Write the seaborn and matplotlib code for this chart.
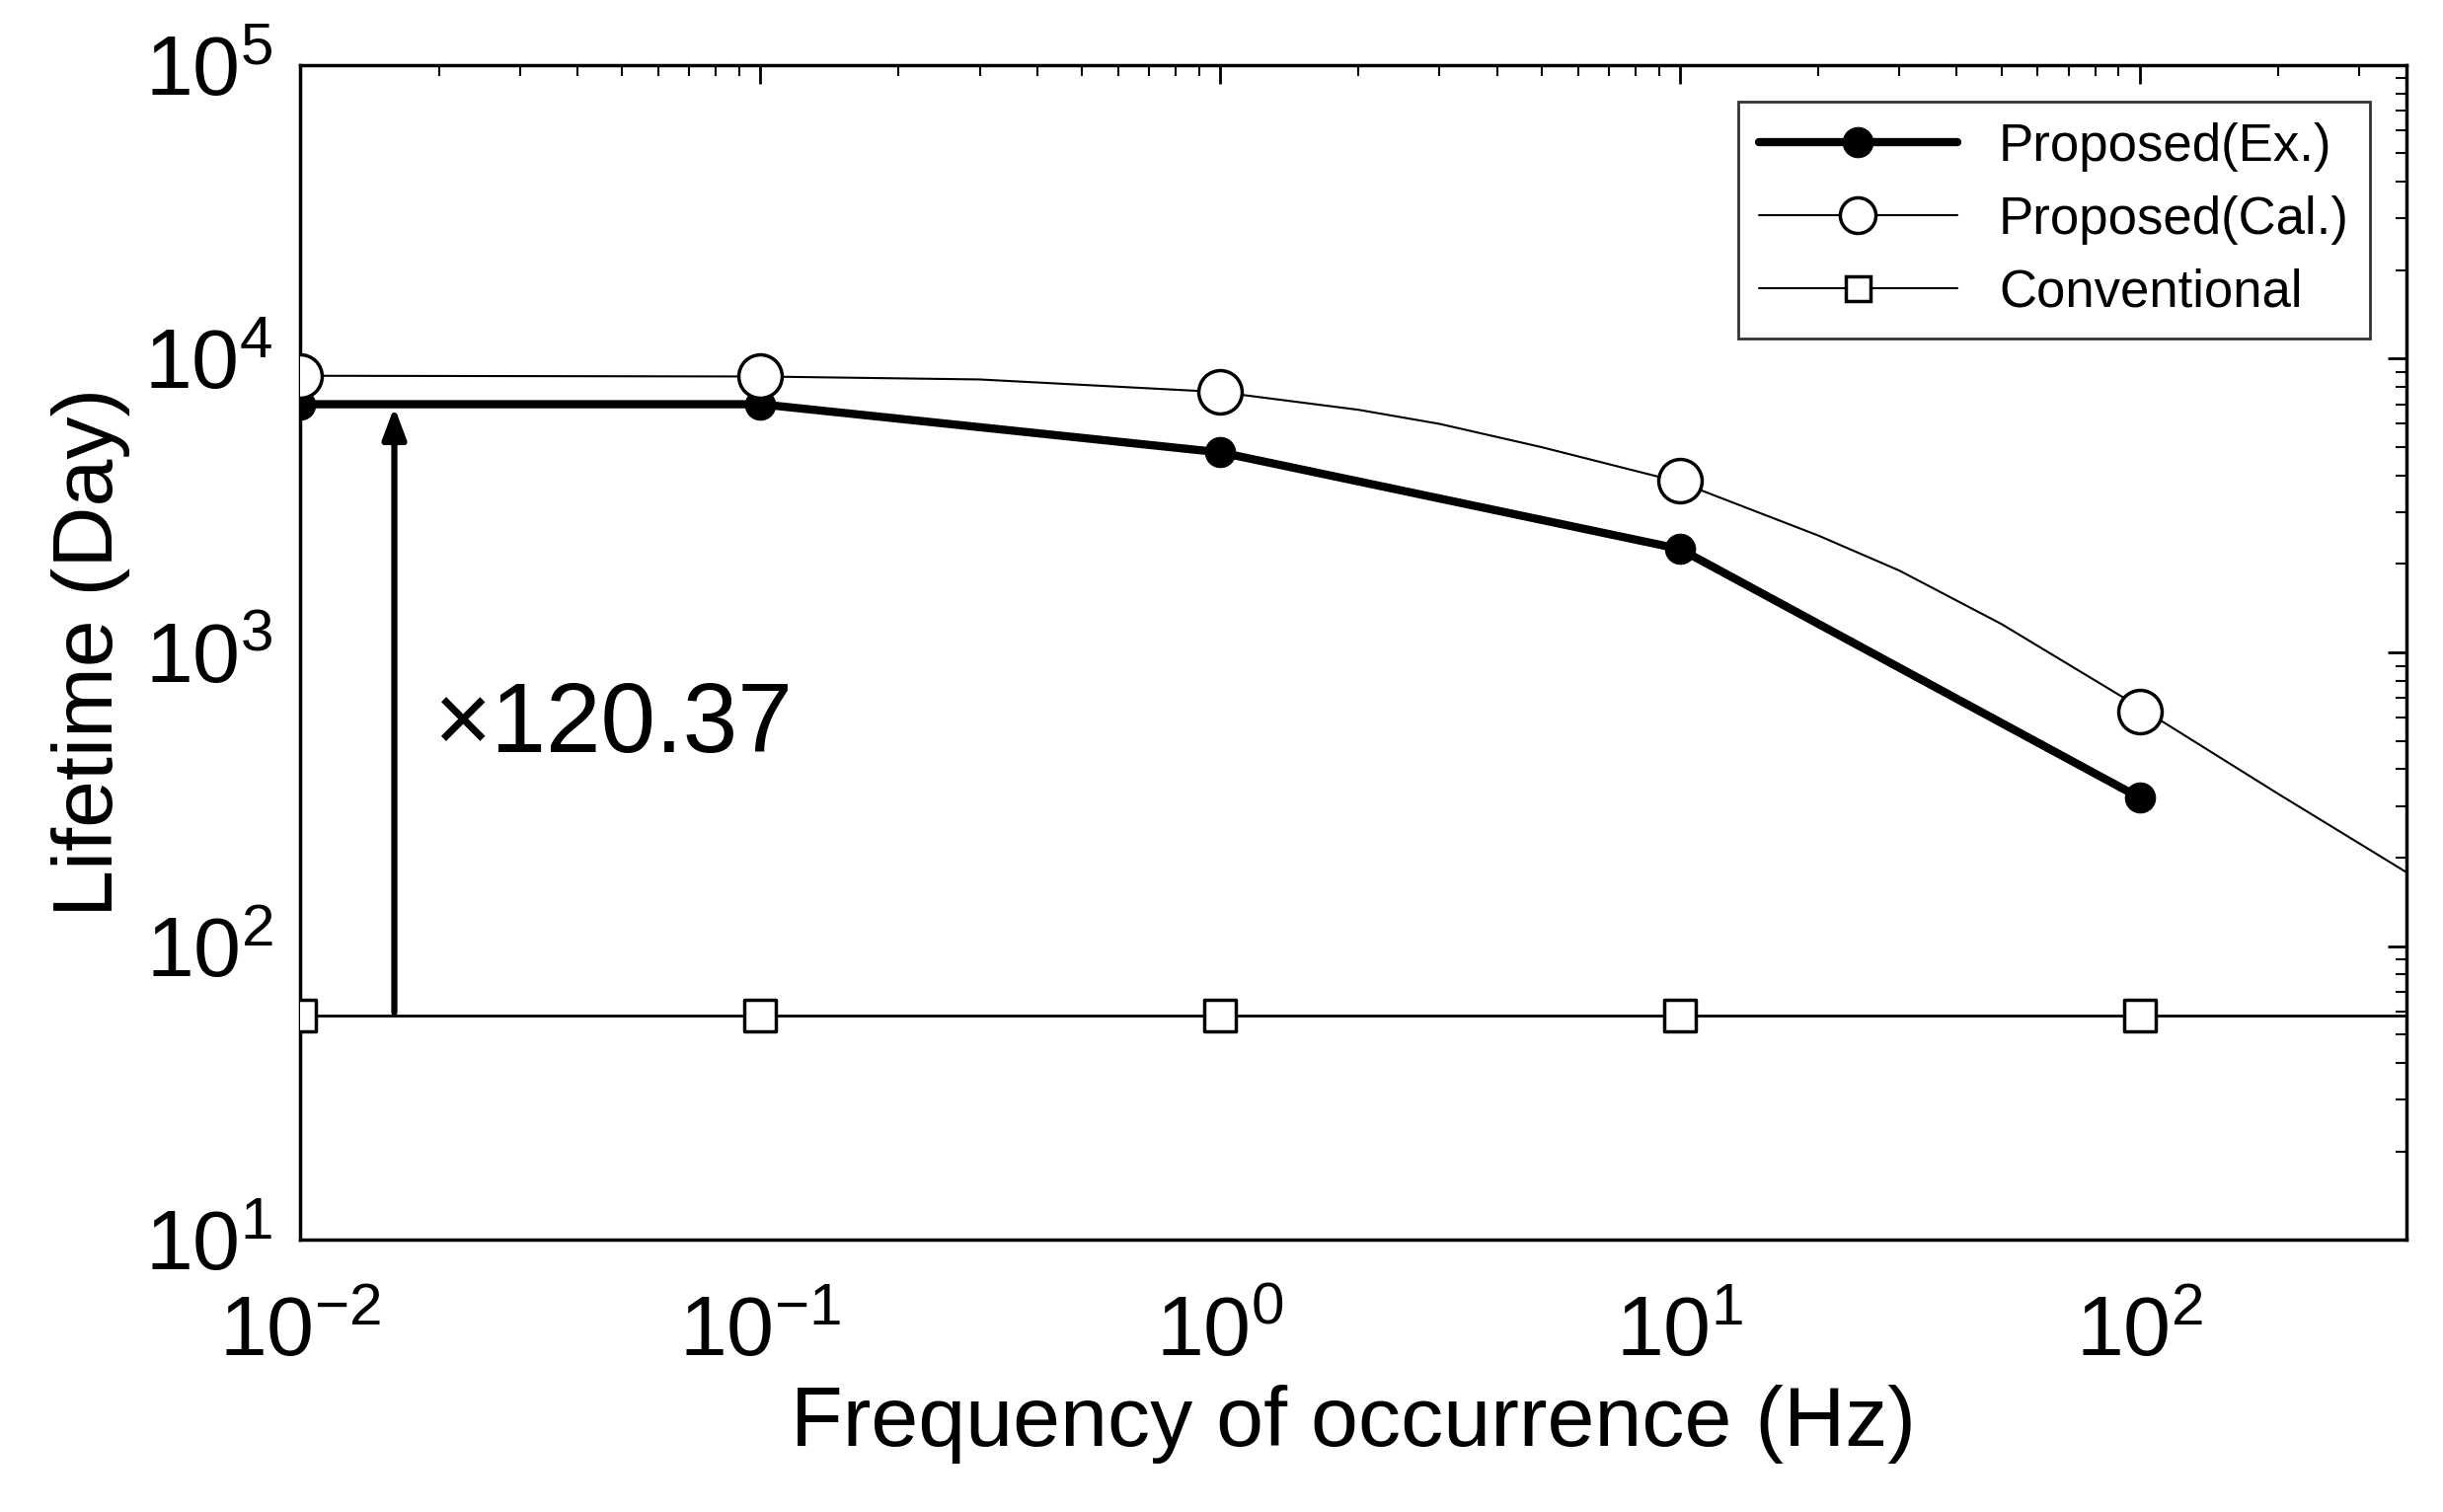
import matplotlib
matplotlib.use("Agg")
import matplotlib.pyplot as plt
import seaborn as sns

sns.set_theme(style="white")
plt.rcParams['font.family'] = ['Liberation Sans', 'DejaVu Sans']
plt.rcParams['text.color'] = 'black'
plt.rcParams['axes.labelcolor'] = 'black'
plt.rcParams['xtick.color'] = 'black'
plt.rcParams['ytick.color'] = 'black'

freq = [0.01, 0.1, 1, 10, 100]
ex_life = [7000, 7000, 4800, 2250, 320]
cal_life = [8750, 8750, 7700, 3850, 630]
conv_life = [58.16, 58.16, 58.16, 58.16, 58.16]
curve_x = [0.01, 0.1, 0.3, 1, 2, 3, 5, 10, 20, 30, 50, 100, 200, 400]
curve_y = [8750, 8700, 8500, 7700, 6700, 6000, 5000, 3800, 2500, 1900, 1250, 650, 330, 170]

fig = plt.figure(figsize=(24.75, 15.32), dpi=100)
ax = fig.add_axes([0.123, 0.18, 0.862, 0.777])

sns.lineplot(x=curve_x, y=curve_y, ax=ax, color='black', lw=1.5)
ax.axhline(conv_life[0], color='black', lw=2)
sns.lineplot(x=freq, y=ex_life, ax=ax, color='black', lw=6, marker='o', ms=22,
             markeredgecolor='black', markerfacecolor='black', label='Proposed(Ex.)')
ax.plot([], [], color='black', lw=1.5, marker='o', ms=26, mfc='white', mec='black', mew=2.5, label='Proposed(Cal.)')
sns.scatterplot(x=freq, y=cal_life, ax=ax, s=1000, facecolor='white', edgecolor='black', linewidth=2.5, zorder=5)
ax.plot([], [], color='black', lw=1.5, marker='s', ms=18, mfc='white', mec='black', mew=2.5, label='Conventional')
sns.scatterplot(x=freq, y=conv_life, ax=ax, marker='s', s=550, facecolor='white', edgecolor='black', linewidth=2.5, zorder=5)

ax.annotate('', xy=(0.016, ex_life[0]), xytext=(0.016, conv_life[0]),
            arrowprops=dict(arrowstyle='-|>,head_length=1.6,head_width=0.6', color='black', lw=4.5))
ax.text(0.0195, 560, '×120.37', fontsize=72, va='center')

ax.set_xscale('log'); ax.set_yscale('log')
ax.set_xlim(0.01, 380); ax.set_ylim(10, 1e5)
ax.set_xticks([0.01, 0.1, 1, 10, 100]); ax.set_yticks([10, 100, 1000, 1e4, 1e5])
ax.tick_params(which='both', direction='in', top=True, right=True, labelsize=62)
ax.tick_params(axis='x', pad=40)
ax.tick_params(axis='y', pad=20)
ax.tick_params(which='major', length=14, width=2)
ax.tick_params(which='minor', length=8, width=1.5)
for s in ax.spines.values():
    s.set_color('black'); s.set_linewidth(2.5)
ax.set_xlabel('Frequency of occurrence (Hz)', fontsize=62, labelpad=8)
ax.set_ylabel('Lifetime (Day)', fontsize=62, labelpad=10)
leg = ax.legend(loc='upper right', fontsize=38, frameon=True, fancybox=False, edgecolor='black',
                handlelength=3.8, borderaxespad=0.7, labelspacing=0.45)
leg.get_frame().set_linewidth(2)
fig.savefig('out.png', dpi=100)
